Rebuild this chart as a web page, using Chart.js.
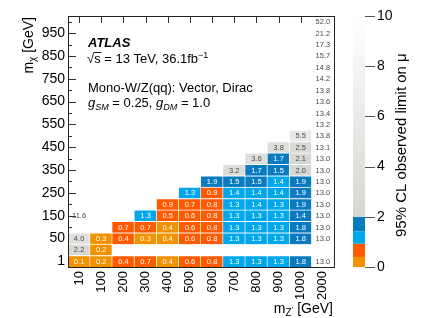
<!DOCTYPE html>
<html><head><meta charset="utf-8">
<script src="https://cdn.jsdelivr.net/npm/chart.js@4.4.1/dist/chart.umd.min.js"></script>
<style>html,body{margin:0;padding:0;background:#fff;}#wrap{width:424px;height:318px;}</style>
</head><body><div id="wrap"><canvas id="c" width="424" height="318"></canvas></div>
<script>
const _ = null;
const mZLabels = ['10','100','200','300','400','500','600','700','800','900','1000','2000'];
const mChiTickLabels = ['1','','50','','150','','250','','350','','450','','550','','650','','750','','850','','950',''];
// observed limit on mu, per m_Z' column, from the lowest m_chi row upward
const mz10   = [0.1, 2.2, 4.0, _, 11.6, _, _, _, _, _, _, _, _, _, _, _, _, _, _, _, _, _];
const mz100  = [0.2, 0.2, 0.3, _, _, _, _, _, _, _, _, _, _, _, _, _, _, _, _, _, _, _];
const mz200  = [0.43, _, 0.43, 0.7, _, _, _, _, _, _, _, _, _, _, _, _, _, _, _, _, _, _];
const mz300  = [0.7, _, 0.3, 0.7, 1.3, _, _, _, _, _, _, _, _, _, _, _, _, _, _, _, _, _];
const mz400  = [0.38, _, 0.38, 0.38, 0.5, 0.9, _, _, _, _, _, _, _, _, _, _, _, _, _, _, _, _];
const mz500  = [0.6, _, 0.6, 0.6, 0.6, 0.7, 1.3, _, _, _, _, _, _, _, _, _, _, _, _, _, _, _];
const mz600  = [0.8, _, 0.8, 0.8, 0.8, 0.8, 0.9, 1.9, _, _, _, _, _, _, _, _, _, _, _, _, _, _];
const mz700  = [1.3, _, 1.3, 1.3, 1.3, 1.3, 1.4, 1.5, 3.2, _, _, _, _, _, _, _, _, _, _, _, _, _];
const mz800  = [1.3, _, 1.3, 1.3, 1.3, 1.4, 1.4, 1.5, 1.7, 3.6, _, _, _, _, _, _, _, _, _, _, _, _];
const mz900  = [1.3, _, 1.3, 1.3, 1.3, 1.3, 1.4, 1.4, 1.5, 1.7, 3.8, _, _, _, _, _, _, _, _, _, _, _];
const mz1000 = [1.8, _, 1.8, 1.8, 1.44, 1.9, 1.9, 1.9, 2.0, 2.1, 2.5, 5.5, _, _, _, _, _, _, _, _, _, _];
const mz2000 = [13.0, _, 13.0, 13.0, 13.0, 13.0, 13.0, 13.0, 13.0, 13.0, 13.1, 13.8, 13.2, 13.4, 13.6, 13.8, 14.2, 14.8, 15.7, 17.3, 21.2, 52.0];
const colorbarTicks = [0, 2, 4, 6, 8, 10];

const columns = [mz10, mz100, mz200, mz300, mz400, mz500, mz600, mz700, mz800, mz900, mz1000, mz2000];
const FONT = "'Liberation Sans', Arial, Helvetica, sans-serif";
const C_OR = '#F39200', C_RD = '#FF5A00', C_LB = '#00A7EB', C_DB = '#0B7BC0';
const G0 = [214, 215, 210], G1 = [255, 255, 255];
function grayAt(v) {
  const t = Math.max(0, Math.min(1, (v - 2) / 8));
  return 'rgb(' + G0.map((c, i) => Math.round(c + (G1[i] - c) * t)).join(',') + ')';
}
function cellColor(v) {
  if (v == null || v > 10) return 'rgba(0,0,0,0)';
  if (v < 0.4) return C_OR;
  if (v < 0.93) return C_RD;
  if (v < 1.42) return C_LB;
  if (v < 2.0) return C_DB;
  return grayAt(v);
}
const nRows = mChiTickLabels.length;
const datasets = [];
for (let r = 0; r < nRows; r++) {
  datasets.push({
    label: 'row' + r,
    xAxisID: 'x', yAxisID: 'y',
    data: columns.map(col => col[r] == null ? null : [r - 0.5, r + 0.5]),
    cellValues: columns.map(col => col[r]),
    backgroundColor: columns.map(col => cellColor(col[r])),
    borderColor: '#ffffff',
    borderWidth: {top: 1, right: 1, bottom: 0, left: 0},
    borderSkipped: false,
    grouped: false,
    barPercentage: 1,
    categoryPercentage: 1
  });
}

function drawPieces(ctx, x, y, pieces) {
  let cx = x;
  for (const p of pieces) {
    ctx.font = p.font;
    ctx.fillText(p.t, cx, y + (p.dy || 0));
    cx += ctx.measureText(p.t).width;
  }
  return cx;
}
function piecesWidth(ctx, pieces) {
  let w = 0;
  for (const p of pieces) { ctx.font = p.font; w += ctx.measureText(p.t).width; }
  return w;
}

const heatPlugin = {
  id: 'heat',
  beforeDatasetsDraw(chart) {
    const {ctx, chartArea: a, scales: {x, y}} = chart;
    ctx.save();
    ctx.strokeStyle = '#333'; ctx.lineWidth = 1;
    ctx.beginPath();
    for (let i = 0; i < nRows; i++) {
      const py = Math.round(y.getPixelForValue(i)) + 0.5;
      const len = (i % 2 === 0) ? 8 : 4;
      ctx.moveTo(a.left, py); ctx.lineTo(a.left + len, py);
    }
    for (let i = 0; i < mZLabels.length - 1; i++) {
      const px = Math.round(x.getPixelForValue(i)) + 0.5;
      ctx.moveTo(px, a.top); ctx.lineTo(px, a.top + 7);
    }
    ctx.stroke();
    ctx.restore();
  },
  afterDatasetsDraw(chart) {
    const {ctx, chartArea: a} = chart;
    ctx.save();
    ctx.font = '7.5px ' + FONT;
    ctx.textAlign = 'center'; ctx.textBaseline = 'middle';
    chart.data.datasets.forEach((ds, di) => {
      const meta = chart.getDatasetMeta(di);
      meta.data.forEach((el, ci) => {
        const v = ds.cellValues[ci];
        if (v == null) return;
        ctx.fillStyle = v < 2 ? '#ffffff' : '#4a4a4a';
        ctx.fillText(v.toFixed(1), el.x, (el.y + el.base) / 2 + 0.5);
      });
    });
    ctx.strokeStyle = '#222'; ctx.lineWidth = 1;
    ctx.strokeRect(Math.round(a.left) + 0.5, Math.round(a.top) + 0.5, Math.round(a.right - a.left), Math.round(a.bottom - a.top));
    ctx.restore();
  },
  afterDraw(chart) {
    const {ctx, chartArea: a} = chart;
    const z = chart.scales.y2;
    ctx.save();
    // colour bar
    const bx0 = 353, bx1 = 365;
    const bins = [[0, 0.4, C_OR], [0.4, 0.93, C_RD], [0.93, 1.42, C_LB], [1.42, 2.0, C_DB]];
    for (const [lo, hi, c] of bins) {
      const y0 = z.getPixelForValue(hi), y1 = z.getPixelForValue(lo);
      ctx.fillStyle = c; ctx.fillRect(bx0, y0, bx1 - bx0, y1 - y0);
    }
    const g = ctx.createLinearGradient(0, z.getPixelForValue(2), 0, z.getPixelForValue(10));
    g.addColorStop(0, grayAt(2)); g.addColorStop(1, grayAt(10));
    ctx.fillStyle = g;
    ctx.fillRect(bx0, z.getPixelForValue(10), bx1 - bx0, z.getPixelForValue(2) - z.getPixelForValue(10));
    ctx.strokeStyle = '#555'; ctx.lineWidth = 1;
    ctx.beginPath();
    for (const t of colorbarTicks) {
      const py = Math.round(z.getPixelForValue(t)) + 0.5;
      ctx.moveTo(bx1, py); ctx.lineTo(bx1 + 10, py);
    }
    ctx.stroke();

    ctx.fillStyle = '#000';
    ctx.textAlign = 'left'; ctx.textBaseline = 'alphabetic';
    // colour bar title
    ctx.save();
    ctx.translate(406, 237); ctx.rotate(-Math.PI / 2);
    ctx.font = '15px ' + FONT;
    ctx.fillText('95% CL observed limit on \u03bc', 0, 0);
    ctx.restore();

    // x title
    const xt = [
      {t: 'm', font: '14px ' + FONT},
      {t: 'Z', font: '10px ' + FONT, dy: 3},
      {t: '\u2019', font: '8px ' + FONT, dy: -1},
      {t: ' [GeV]', font: '14px ' + FONT}
    ];
    drawPieces(ctx, 333 - piecesWidth(ctx, xt), 313, xt);
    // y title
    const yt = [
      {t: 'm', font: '14px ' + FONT},
      {t: '\u03c7', font: '10px ' + FONT, dy: 3},
      {t: ' [GeV]', font: '14px ' + FONT}
    ];
    ctx.save();
    ctx.translate(33, 17 + piecesWidth(ctx, yt)); ctx.rotate(-Math.PI / 2);
    drawPieces(ctx, 0, 0, yt);
    ctx.restore();

    // annotations
    const tx = 88;
    ctx.font = 'italic bold 13px ' + FONT;
    ctx.fillText('ATLAS', tx, 47);
    ctx.font = '13px ' + FONT;
    ctx.fillText('\u221a', tx - 1, 63);
    let cx = tx - 1 + ctx.measureText('\u221a').width;
    const sw = ctx.measureText('s').width;
    ctx.beginPath(); ctx.strokeStyle = '#000'; ctx.lineWidth = 0.9;
    ctx.moveTo(cx - 0.5, 52.5); ctx.lineTo(cx + sw + 0.5, 52.5); ctx.stroke();
    cx = drawPieces(ctx, cx, 63, [
      {t: 's = 13 TeV, 36.1fb', font: '13px ' + FONT},
      {t: '\u22121', font: '9px ' + FONT, dy: -5}
    ]);
    ctx.font = '13px ' + FONT;
    ctx.fillText('Mono-W/Z(qq): Vector, Dirac', tx, 92);
    drawPieces(ctx, tx, 107, [
      {t: 'g', font: 'italic 13px ' + FONT},
      {t: 'SM', font: 'italic 9px ' + FONT, dy: 3},
      {t: ' = 0.25, ', font: '13px ' + FONT},
      {t: 'g', font: 'italic 13px ' + FONT},
      {t: 'DM', font: 'italic 9px ' + FONT, dy: 3},
      {t: ' = 1.0', font: '13px ' + FONT}
    ]);
    ctx.restore();
  }
};

Chart.defaults.font.family = FONT;
new Chart(document.getElementById('c'), {
  type: 'bar',
  data: {labels: mZLabels, datasets},
  options: {
    responsive: false,
    animation: false,
    events: [],
    layout: {padding: {top: 16, left: 0, right: 0, bottom: 0}},
    plugins: {legend: {display: false}, tooltip: {enabled: false}},
    scales: {
      x: {
        type: 'category', offset: true,
        grid: {display: false, drawTicks: false}, border: {display: false},
        ticks: {minRotation: 90, maxRotation: 90, autoSkip: false, padding: 4, color: '#000', font: {size: 13}},
        afterFit(s) { s.height = 51; }
      },
      y: {
        type: 'linear', position: 'left', min: -0.5, max: nRows - 0.5,
        grid: {display: false, drawTicks: false}, border: {display: false},
        afterBuildTicks(s) { s.ticks = mChiTickLabels.map((lab, i) => ({value: i})); },
        ticks: {autoSkip: false, padding: 3, color: '#000', font: {size: 14},
          callback: (v) => mChiTickLabels[Math.round(v)] || ''},
        afterFit(s) { s.width = 68; }
      },
      y2: {
        type: 'linear', position: 'right', min: 0, max: 10,
        grid: {display: false, drawTicks: true, tickLength: 41}, border: {display: false},
        afterBuildTicks(s) { s.ticks = colorbarTicks.map(v => ({value: v})); },
        ticks: {padding: 2, color: '#000', font: {size: 14}},
        afterFit(s) { s.width = 90; }
      }
    }
  },
  plugins: [heatPlugin]
});
</script></body></html>
